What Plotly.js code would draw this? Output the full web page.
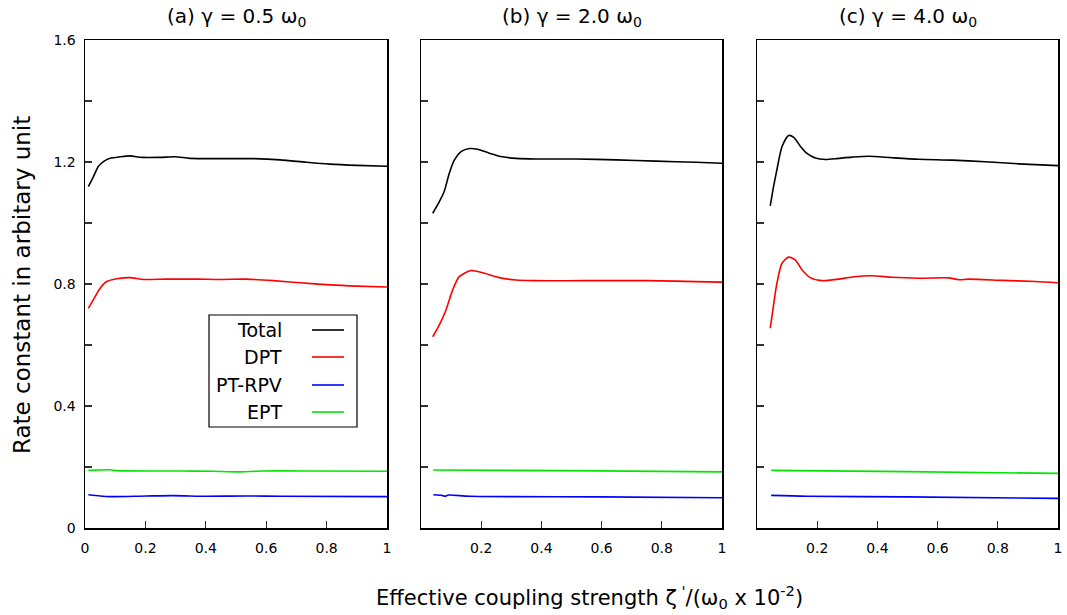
<!DOCTYPE html>
<html>
<head>
<meta charset="utf-8">
<script src="https://cdn.plot.ly/plotly-3.0.1.min.js"></script>
<style>html,body{margin:0;padding:0;background:#fff;}#plot{width:1067px;height:615px;}</style>
</head>
<body>
<div id="plot"></div>
<script>
// ---------- data ----------
const panelTitles = ['(a) γ = 0.5 ω<sub>0</sub>', '(b) γ = 2.0 ω<sub>0</sub>', '(c) γ = 4.0 ω<sub>0</sub>'];
const seriesNames = ['Total', 'DPT', 'PT-RPV', 'EPT'];
const seriesColors = ['#000000', '#ff0000', '#0000ff', '#00e600'];
const xTickValsFirst = [0, 0.2, 0.4, 0.6, 0.8, 1];
const xTickTextFirst = ['0', '0.2', '0.4', '0.6', '0.8', '1'];
const xTickValsOther = [0.2, 0.4, 0.6, 0.8, 1];
const xTickTextOther = ['0.2', '0.4', '0.6', '0.8', '1'];
const yTickVals = [0, 0.4, 0.8, 1.2, 1.6];
const yTickText = ['0', '0.4', '0.8', '1.2', '1.6'];
const xTitle = 'Effective coupling strength ζ<sup> \'</sup>/(ω<sub>0</sub> x 10<sup>-2</sup>)';
const yTitle = 'Rate constant in arbitary unit';

// panel (a) γ = 0.5
const a_total_x = [0.011,0.028,0.044,0.061,0.083,0.116,0.149,0.188,0.248,0.298,0.348,0.447,0.557,0.646,0.734,0.811,0.900,1.0];
const a_total_y = [1.119,1.152,1.185,1.201,1.212,1.217,1.220,1.215,1.215,1.217,1.212,1.211,1.211,1.207,1.199,1.193,1.189,1.186];
const a_dpt_x = [0.011,0.033,0.050,0.072,0.105,0.149,0.193,0.270,0.370,0.447,0.535,0.624,0.712,0.811,0.900,1.0];
const a_dpt_y = [0.720,0.758,0.786,0.808,0.817,0.821,0.815,0.816,0.816,0.815,0.816,0.811,0.804,0.797,0.793,0.790];
const a_rpv_x = [0.011,0.050,0.083,0.204,0.292,0.403,0.535,0.646,1.0];
const a_rpv_y = [0.109,0.105,0.103,0.105,0.106,0.104,0.105,0.104,0.103];
const a_ept_x = [0.011,0.083,0.105,0.315,0.425,0.502,0.590,0.756,1.0];
const a_ept_y = [0.189,0.191,0.188,0.187,0.186,0.184,0.187,0.187,0.186];

// panel (b) γ = 2.0
const b_total_x = [0.039,0.061,0.077,0.094,0.111,0.133,0.161,0.188,0.227,0.271,0.316,0.382,0.515,0.648,0.781,0.914,1.0];
const b_total_y = [1.032,1.070,1.103,1.163,1.207,1.234,1.244,1.242,1.229,1.217,1.212,1.210,1.210,1.207,1.203,1.199,1.196];
const b_dpt_x = [0.039,0.061,0.083,0.105,0.127,0.166,0.205,0.260,0.316,0.371,0.537,0.758,1.0];
const b_dpt_y = [0.627,0.666,0.715,0.780,0.824,0.844,0.837,0.821,0.813,0.811,0.811,0.811,0.806];
const b_rpv_x = [0.041,0.069,0.080,0.091,0.163,0.595,1.0];
const b_rpv_y = [0.109,0.107,0.104,0.108,0.104,0.102,0.099];
const b_ept_x = [0.041,0.484,1.0];
const b_ept_y = [0.190,0.188,0.184];

// panel (c) γ = 4.0
const c_total_x = [0.044,0.055,0.066,0.083,0.105,0.122,0.144,0.166,0.194,0.227,0.271,0.316,0.371,0.449,0.537,0.648,0.758,0.869,1.0];
const c_total_y = [1.056,1.119,1.174,1.250,1.287,1.281,1.252,1.228,1.213,1.208,1.212,1.216,1.219,1.214,1.209,1.206,1.201,1.194,1.188];
const c_dpt_x = [0.044,0.055,0.066,0.083,0.105,0.127,0.150,0.177,0.216,0.271,0.316,0.382,0.449,0.537,0.637,0.670,0.703,0.814,0.925,1.0];
const c_dpt_y = [0.655,0.731,0.802,0.868,0.888,0.879,0.846,0.821,0.811,0.816,0.823,0.827,0.822,0.819,0.820,0.814,0.816,0.812,0.808,0.804];
const c_rpv_x = [0.047,0.165,0.497,1.0];
const c_rpv_y = [0.107,0.104,0.102,0.097];
const c_ept_x = [0.047,0.497,1.0];
const c_ept_y = [0.189,0.185,0.179];

const panels = [
  [[a_total_x,a_total_y],[a_dpt_x,a_dpt_y],[a_rpv_x,a_rpv_y],[a_ept_x,a_ept_y]],
  [[b_total_x,b_total_y],[b_dpt_x,b_dpt_y],[b_rpv_x,b_rpv_y],[b_ept_x,b_ept_y]],
  [[c_total_x,c_total_y],[c_dpt_x,c_dpt_y],[c_rpv_x,c_rpv_y],[c_ept_x,c_ept_y]]
];

// ---------- layout helpers ----------
const W = 1067, H = 615;
const px = v => v / W;
const py = v => 1 - v / H;
const xDomains = [[85, 387], [421, 722], [757, 1058]];
const yDomain = [py(528), py(40)];
const FONT = 'DejaVu Sans, Verdana, sans-serif';

const traces = [];
panels.forEach((series, p) => {
  const xa = p === 0 ? 'x' : 'x' + (p + 1);
  const ya = p === 0 ? 'y' : 'y' + (p + 1);
  series.forEach((s, k) => {
    traces.push({
      x: s[0], y: s[1], xaxis: xa, yaxis: ya, type: 'scatter', mode: 'lines',
      name: seriesNames[k], showlegend: false, hoverinfo: 'skip',
      line: {color: seriesColors[k], width: 1.6, shape: 'spline', smoothing: 0.7}
    });
  });
});

const layout = {
  width: W, height: H,
  margin: {l: 0, r: 0, t: 0, b: 0},
  paper_bgcolor: '#ffffff', plot_bgcolor: '#ffffff',
  font: {family: FONT, color: '#000', size: 14},
  showlegend: false,
  annotations: [], shapes: []
};

const tickStyle = {ticks: 'inside', ticklen: 7, tickwidth: 1.2, tickcolor: '#333'};

xDomains.forEach((d, p) => {
  const xk = p === 0 ? 'xaxis' : 'xaxis' + (p + 1);
  const yk = p === 0 ? 'yaxis' : 'yaxis' + (p + 1);
  layout[xk] = Object.assign({
    domain: [px(d[0]), px(d[1])], range: [0, 1], anchor: p === 0 ? 'y' : 'y' + (p + 1),
    tickmode: 'array',
    tickvals: p === 0 ? xTickValsFirst : xTickValsOther,
    ticktext: p === 0 ? xTickTextFirst : xTickTextOther,
    ticklabelstandoff: 7,
    showline: true, linecolor: '#000', linewidth: 1.5, mirror: true,
    showgrid: false, zeroline: false, fixedrange: true,
    tickfont: {family: FONT, size: 14, color: '#000'}
  }, tickStyle);
  layout[yk] = Object.assign({
    domain: yDomain, range: [0, 1.6], anchor: p === 0 ? 'x' : 'x' + (p + 1),
    tickmode: 'array', tickvals: yTickVals, ticktext: yTickText,
    showticklabels: p === 0,
    ticklabelstandoff: 5,
    minor: {dtick: 0.2, tick0: 0, ticks: 'inside', ticklen: 7, tickwidth: 1.2, tickcolor: '#333', showgrid: false},
    showline: true, linecolor: '#000', linewidth: 1.5, mirror: true,
    showgrid: false, zeroline: false, fixedrange: true,
    tickfont: {family: FONT, size: 14, color: '#000'}
  }, tickStyle);
  layout.annotations.push({
    text: panelTitles[p], xref: 'paper', yref: 'paper',
    x: px((d[0] + d[1]) / 2), y: py(17), xanchor: 'center', yanchor: 'middle',
    showarrow: false, font: {family: FONT, size: 20, color: '#000'}
  });
});

// axis titles
layout.annotations.push({
  text: xTitle, xref: 'paper', yref: 'paper', x: px(589), y: py(597),
  xanchor: 'center', yanchor: 'middle', showarrow: false,
  font: {family: FONT, size: 21, color: '#000'}
});
layout.annotations.push({
  text: yTitle, xref: 'paper', yref: 'paper', x: px(22), y: py(285),
  xanchor: 'center', yanchor: 'middle', showarrow: false, textangle: -90,
  font: {family: FONT, size: 23, color: '#000'}
});

// legend box (gnuplot style: label then line sample)
layout.shapes.push({
  type: 'rect', xref: 'paper', yref: 'paper',
  x0: px(209), x1: px(357), y0: py(427), y1: py(315),
  line: {color: '#000', width: 1.2}, fillcolor: '#ffffff', layer: 'above'
});
const legendRows = [330, 357, 385, 412];
seriesNames.forEach((name, k) => {
  layout.annotations.push({
    text: name, xref: 'paper', yref: 'paper', x: px(284), y: py(legendRows[k]),
    xanchor: 'right', yanchor: 'middle', showarrow: false,
    font: {family: FONT, size: 19, color: '#000'}
  });
  layout.shapes.push({
    type: 'line', xref: 'paper', yref: 'paper',
    x0: px(312), x1: px(344), y0: py(legendRows[k]), y1: py(legendRows[k]),
    line: {color: seriesColors[k], width: 1.6}, layer: 'above'
  });
});

Plotly.newPlot('plot', traces, layout, {staticPlot: true, displayModeBar: false});
</script>
</body>
</html>
